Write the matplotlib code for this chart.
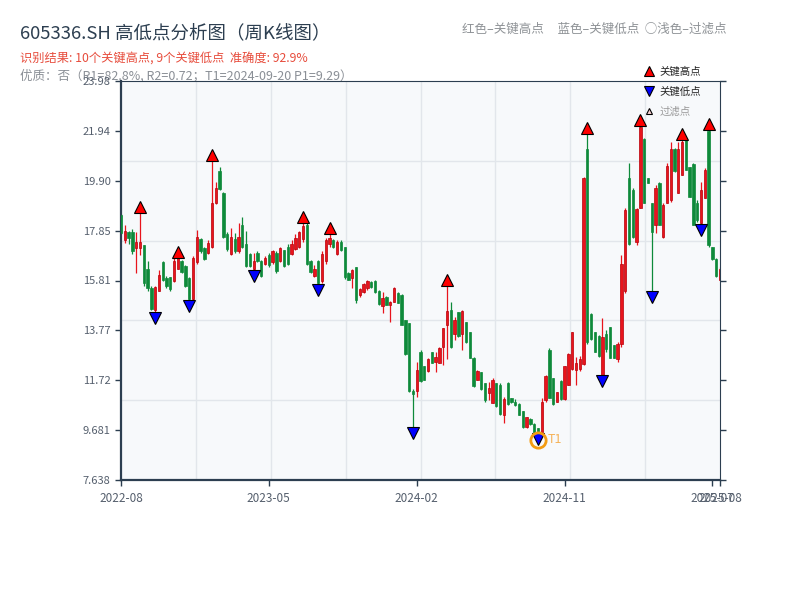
import matplotlib
matplotlib.use("Agg")
import matplotlib.pyplot as plt
import matplotlib.transforms as mtransforms
from matplotlib.lines import Line2D
from matplotlib.ticker import FixedLocator, FixedFormatter
import numpy as np

plt.rcParams['font.family'] = ['Noto Sans CJK SC', 'DejaVu Sans']

# weekly OHLC
opens = [18.5, 17.45, 17.8, 17.8, 17.15, 17.15, 17.25, 16.3, 15.5, 14.6,
         15.4, 16.55, 15.9, 15.95, 15.8, 16.3, 16.6, 16.4, 15.9, 15.05,
         16.55, 17.5, 17.15, 16.95, 17.2, 19.0, 20.3, 19.4, 17.7, 16.9,
         17.5, 17.0, 18.1, 17.3, 16.9, 16.3, 16.95, 16.6, 16.5, 16.85,
         16.55, 16.95, 16.6, 17.05, 17.2, 16.9, 17.1, 17.2, 17.5, 18.1,
         16.6, 16.0, 16.6, 15.8, 16.6, 17.3, 17.45, 16.9, 17.4, 17.2,
         16.1, 15.9, 16.35, 15.2, 15.35, 15.5, 15.75, 15.8, 15.4, 14.75,
         15.15, 14.8, 14.95, 15.3, 15.2, 14.19, 14.06, 11.3, 11.3, 12.9,
         12.3, 12.1, 12.89, 12.48, 12.45, 13.1, 14.0, 14.6, 13.6, 14.5,
         13.6, 14.1, 13.7, 12.65, 11.75, 12.05, 11.6, 11.2, 10.8, 11.6,
         11.55, 10.3, 11.6, 11.0, 10.85, 10.75, 10.45, 9.8, 10.15, 9.95,
         9.76, 9.62, 10.9, 12.95, 11.8, 10.85, 11.7, 10.95, 11.55, 12.2,
         12.15, 12.2, 12.4, 21.2, 14.45, 13.7, 13.55, 11.95, 13.6, 13.9,
         13.15, 12.6, 13.2, 15.4, 20.0, 19.5, 17.4, 18.8, 21.6, 19.99,
         18.97, 18.1, 19.8, 17.6, 19.0, 19.1, 21.2, 19.4, 20.15, 21.6,
         20.45, 20.6, 19.0, 18.15, 19.2, 21.95, 17.2, 16.7, 15.85]
closes = [17.75, 17.85, 17.55, 17.0, 17.4, 17.4, 15.7, 15.5, 14.65, 15.55,
          16.05, 15.85, 15.6, 15.45, 16.6, 16.75, 16.15, 15.6, 15.05, 16.75,
          17.6, 17.0, 16.7, 17.35, 19.0, 19.6, 19.55, 17.6, 17.1, 17.6,
          17.0, 17.6, 17.2, 16.4, 16.4, 16.6, 16.6, 16.0, 16.75, 16.45,
          17.0, 16.2, 17.15, 16.4, 16.5, 17.3, 17.55, 17.8, 18.05, 16.5,
          16.15, 16.3, 15.7, 16.9, 17.45, 17.55, 17.2, 17.4, 17.05, 15.95,
          15.85, 16.25, 15.0, 15.45, 15.65, 15.8, 15.55, 15.35, 14.85, 15.1,
          14.82, 14.95, 15.5, 14.9, 14.0, 12.8, 11.3, 11.15, 12.15, 11.7,
          11.75, 12.6, 12.45, 12.69, 13.05, 13.85, 14.55, 13.1, 14.2, 13.55,
          14.55, 13.3, 12.65, 11.5, 12.1, 11.35, 10.9, 11.4, 11.75, 10.65,
          10.35, 10.95, 10.75, 10.85, 10.7, 10.32, 9.8, 10.2, 9.92, 9.62,
          9.58, 10.84, 11.9, 11.0, 10.75, 11.25, 10.95, 12.3, 12.8, 13.7,
          12.45, 12.6, 20.0, 13.3, 13.4, 12.9, 12.7, 13.5, 13.0, 12.65,
          12.65, 13.2, 16.5, 18.7, 17.3, 17.6, 18.75, 22.1, 19.0, 19.8,
          17.8, 19.6, 18.1, 18.9, 20.5, 21.2, 20.3, 21.2, 21.5, 20.35,
          19.25, 18.1, 18.3, 19.5, 20.35, 17.25, 16.7, 16.0, 16.3]
highs = [18.55, 18.1, 17.85, 17.9, 17.8, 18.61, 17.26, 16.6, 15.6, 15.6,
         16.25, 16.6, 16.0, 15.97, 16.85, 16.77, 16.65, 16.45, 15.96, 16.8,
         17.88, 17.55, 17.2, 17.47, 20.72, 19.85, 20.47, 19.45, 17.8, 17.95,
         17.75, 18.15, 18.4, 17.85, 16.95, 16.95, 17.0, 16.65, 16.8, 16.93,
         17.06, 17.0, 17.2, 17.06, 17.3, 17.45, 17.7, 17.85, 18.18, 18.15,
         16.65, 16.44, 16.65, 17.0, 17.55, 17.74, 17.5, 17.47, 17.45, 17.2,
         16.15, 16.3, 16.37, 15.5, 15.7, 15.85, 15.8, 15.82, 15.42, 15.35,
         15.17, 14.97, 15.55, 15.35, 15.26, 14.19, 14.06, 11.35, 12.48, 12.96,
         12.3, 12.62, 12.89, 12.89, 13.1, 13.85, 15.62, 14.94, 14.33, 14.53,
         14.6, 14.12, 13.71, 12.69, 12.14, 12.07, 11.6, 11.66, 11.8, 11.6,
         11.6, 11.05, 11.66, 11.0, 10.95, 10.78, 10.45, 10.23, 10.17, 9.96,
         9.78, 10.98, 11.94, 13.03, 11.8, 11.26, 11.73, 12.3, 12.83, 13.71,
         12.69, 12.7, 20.06, 21.81, 14.47, 13.71, 13.57, 14.28, 13.8, 13.91,
         13.15, 13.3, 16.85, 18.77, 20.61, 19.58, 18.77, 22.14, 21.63, 19.99,
         18.97, 19.72, 19.86, 18.97, 20.61, 21.49, 21.22, 21.49, 21.6, 21.63,
         20.47, 20.61, 19.1, 19.86, 20.4, 22.01, 17.2, 16.72, 16.37]
lows = [17.7, 17.35, 17.3, 16.9, 16.1, 16.85, 15.6, 15.4, 14.6, 14.5,
        15.4, 15.8, 15.5, 15.4, 15.75, 16.3, 16.1, 15.55, 14.98, 15.0,
        16.5, 16.95, 16.65, 16.9, 17.15, 18.95, 19.5, 17.54, 17.0, 16.85,
        16.95, 16.95, 17.15, 16.35, 16.35, 16.21, 16.55, 15.96, 16.45, 16.37,
        16.5, 16.12, 16.55, 16.37, 16.45, 16.85, 17.05, 17.15, 17.4, 16.45,
        16.1, 15.96, 15.64, 15.7, 16.5, 17.2, 17.15, 16.85, 17.0, 15.89,
        15.83, 15.5, 14.9, 15.14, 15.28, 15.42, 15.5, 15.3, 14.8, 14.47,
        14.8, 14.12, 14.94, 14.87, 13.99, 12.76, 11.26, 9.78, 11.05, 11.66,
        11.73, 12.07, 12.42, 12.07, 12.42, 12.35, 12.6, 13.03, 13.38, 13.51,
        12.96, 13.24, 12.62, 11.46, 11.73, 11.32, 10.84, 10.91, 10.78, 10.64,
        10.3, 9.96, 10.71, 10.8, 10.65, 10.3, 9.76, 9.76, 9.89, 9.58,
        9.55, 9.6, 10.84, 10.98, 10.71, 10.84, 10.91, 10.91, 11.53, 12.15,
        11.53, 12.1, 12.35, 13.2, 13.38, 12.89, 12.69, 11.91, 12.9, 12.62,
        12.62, 12.48, 13.1, 15.3, 17.26, 17.54, 17.26, 18.77, 18.97, 19.79,
        15.35, 17.74, 18.08, 17.54, 18.97, 19.04, 20.27, 19.38, 20.13, 20.33,
        19.24, 18.08, 18.2, 18.11, 19.17, 17.2, 16.65, 15.96, 15.83]

key_high_idx = [5, 15, 24, 48, 55, 86, 123, 137, 148, 155]
key_low_idx = [9, 18, 35, 52, 77, 110, 127, 140, 153]

tick_idx = [0, 39, 78, 117, 156, 158]
tick_labels = ['2022-08', '2023-05', '2024-02', '2024-11', '2025-07', '2025-08']

t1_idx = 110
p1 = 9.29
y_min, y_max = 7.638, 23.983

RED = '#e8141c'
RED_EDGE = '#b8000a'
GREEN = '#0e8a3a'
NAVY = '#2c3e50'

opens = np.array(opens)
closes = np.array(closes)
highs = np.array(highs)
lows = np.array(lows)
x = np.arange(len(opens))
up = closes >= opens
dn = ~up

fig = plt.figure(figsize=(8, 6), dpi=100)
ax = fig.add_axes([121 / 800, 120 / 600, 599 / 800, 399 / 600])
ax.set_facecolor('#f7f9fb')

# candles
ax.vlines(x[up], lows[up], highs[up], color=RED, lw=0.9, zorder=2)
ax.vlines(x[dn], lows[dn], highs[dn], color=GREEN, lw=0.9, zorder=2)
ax.bar(x[up], closes[up] - opens[up], bottom=opens[up], width=0.62,
       color=RED, edgecolor=RED_EDGE, lw=0.5, zorder=3)
ax.bar(x[dn], closes[dn] - opens[dn], bottom=opens[dn], width=0.62,
       color=GREEN, edgecolor=GREEN, lw=0.5, zorder=3)

# key points, marker sits just beyond the extreme
up_off = ax.transData + mtransforms.ScaledTranslation(0, 4 / 72, fig.dpi_scale_trans)
dn_off = ax.transData + mtransforms.ScaledTranslation(0, -4 / 72, fig.dpi_scale_trans)
ax.plot(x[key_high_idx], highs[key_high_idx], ls='none', marker='^', ms=9,
        mfc='#ff0000', mec='black', mew=0.8, transform=up_off, zorder=5, clip_on=False)
ax.plot(x[key_low_idx], lows[key_low_idx], ls='none', marker='v', ms=9,
        mfc='#0000ff', mec='black', mew=0.8, transform=dn_off, zorder=5, clip_on=False)

# T1 marker
ax.plot([t1_idx], [p1], ls='none', marker='o', ms=11, mfc='none', mec='#f39c12',
        mew=2, zorder=6)
ax.annotate('T1', (t1_idx, p1), xytext=(7, 0), textcoords='offset points',
            va='center', ha='left', fontsize=9, color='#f5b35a', zorder=6)

ax.set_xlim(0, len(opens) - 1)
ax.set_ylim(y_min, y_max)

yt = np.linspace(y_min, y_max, 9)
ax.yaxis.set_major_locator(FixedLocator(yt))
ax.yaxis.set_major_formatter(FixedFormatter(['%#.4g' % v for v in yt]))
ax.xaxis.set_major_locator(FixedLocator(tick_idx))
ax.xaxis.set_major_formatter(FixedFormatter(tick_labels))

ax.xaxis.set_minor_locator(FixedLocator(np.linspace(0, len(opens) - 1, 9)[1:-1]))
ax.yaxis.set_minor_locator(FixedLocator(np.linspace(y_min, y_max, 6)[1:-1]))
ax.grid(True, which='minor', color='#e2e6eb', lw=1)
ax.grid(False, which='major')
ax.set_axisbelow(True)

ax.tick_params(which='major', direction='out', length=4, width=1, color=NAVY,
               labelsize=8, labelcolor='#555f6d')
ax.tick_params(axis='x', which='major', labelsize=8.5, pad=5)
ax.tick_params(axis='y', which='major', right=True)
ax.tick_params(which='minor', length=0)

for side in ['left', 'bottom']:
    ax.spines[side].set_color(NAVY)
    ax.spines[side].set_linewidth(1.6)
for side in ['top', 'right']:
    ax.spines[side].set_color(NAVY)
    ax.spines[side].set_linewidth(0.8)

# titles
fig.text(20 / 800, 1 - 33 / 600, '605336.SH 高低点分析图（周K线图）', fontsize=13.3,
         color=NAVY, va='center', ha='left')
fig.text(20 / 800, 1 - 59 / 600, '识别结果: 10个关键高点, 9个关键低点  准确度: 92.9%',
         fontsize=8.8, color='#e74c3c', va='center', ha='left')
fig.text(20 / 800, 1 - 76 / 600, '优质：否（R1=82.8%, R2=0.72；T1=2024-09-20 P1=9.29）',
         fontsize=9, color='#8a8f96', va='center', ha='left', zorder=-1)
fig.text(462 / 800, 1 - 29 / 600, '红色–关键高点     蓝色–关键低点  ○浅色–过滤点',
         fontsize=9, color='#8e9296', va='center', ha='left')

handles = [
    Line2D([], [], ls='none', marker='^', ms=7, mfc='#ff0000', mec='black', mew=0.8),
    Line2D([], [], ls='none', marker='v', ms=7, mfc='#0000ff', mec='black', mew=0.8),
    Line2D([], [], ls='none', marker='^', ms=5, mfc='#f8d0d0', mec='black', mew=0.8),
]
leg = fig.legend(handles, ['关键高点', '关键低点', '过滤点'], loc='upper left',
                 bbox_to_anchor=(644 / 800, 1 - 66 / 600), frameon=False, fontsize=7.5,
                 handlelength=1, handletextpad=0.5, labelspacing=0.95, borderpad=0,
                 borderaxespad=0)
leg.get_texts()[0].set_color('#222222')
leg.get_texts()[1].set_color('#222222')
leg.get_texts()[2].set_color('#999999')

fig.savefig('out.png', dpi=100)
